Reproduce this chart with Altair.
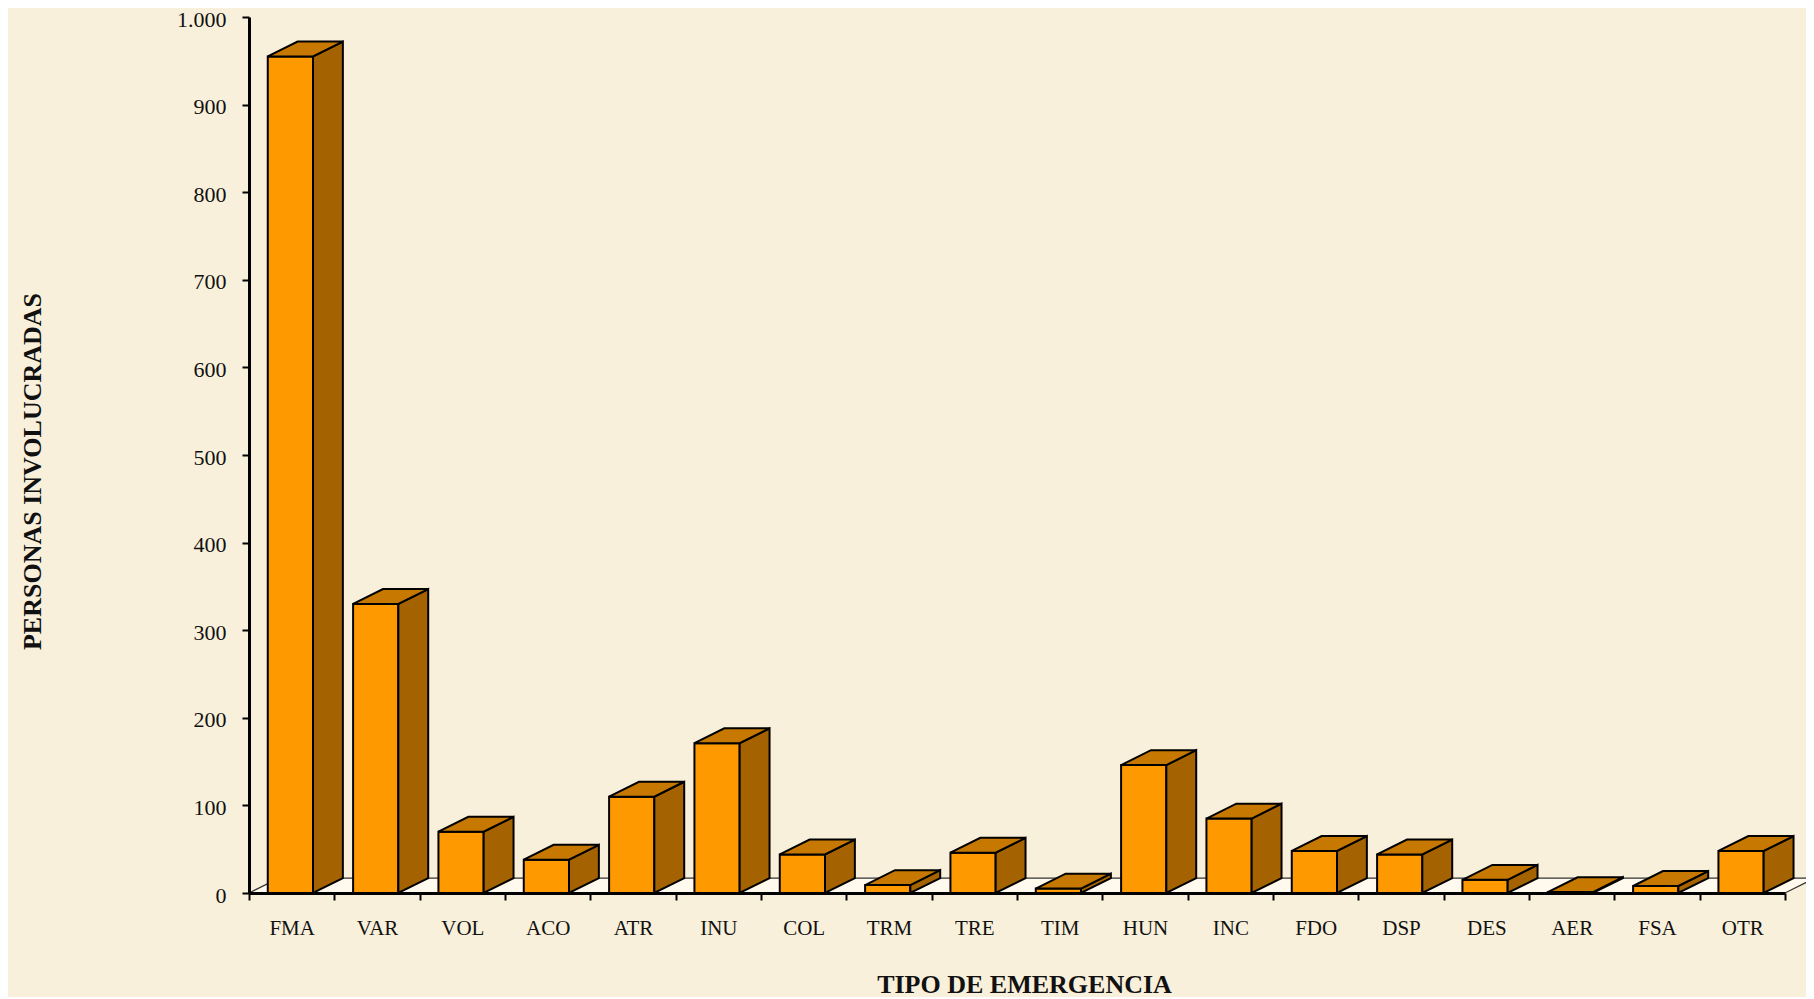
import altair as alt
import pandas as pd

# ---- data ----
categories = ["FMA", "VAR", "VOL", "ACO", "ATR", "INU", "COL", "TRM", "TRE",
              "TIM", "HUN", "INC", "FDO", "DSP", "DES", "AER", "FSA", "OTR"]
values = [955, 330, 70, 38, 110, 171, 44, 9, 46, 5, 146, 85, 48, 44, 15, 1, 8, 48]
y_ticks = list(range(0, 1001, 100))

# ---- 3D styling (band units / value units) ----
FRONT_L, FRONT_R = 0.22, 0.75
DX, DY = 0.35, 17
n = len(categories)

front_df = pd.DataFrame({
    "cat": categories,
    "x": [i + FRONT_L for i in range(n)],
    "x2": [i + FRONT_R for i in range(n)],
    "top": values,
    "bot": [0] * n,
})

side_rows, top_rows = [], []
for i, (c, v) in enumerate(zip(categories, values)):
    side_rows += [
        {"cat": c, "x": i + FRONT_R, "top": v, "bot": 0},
        {"cat": c, "x": i + FRONT_R + DX, "top": v + DY, "bot": DY},
    ]
    top_rows += [
        {"cat": c, "x": i + FRONT_L, "top": v, "bot": v},
        {"cat": c, "x": i + FRONT_L + DX, "top": v + DY, "bot": v},
        {"cat": c, "x": i + FRONT_R, "top": v + DY, "bot": v},
        {"cat": c, "x": i + FRONT_R + DX, "top": v + DY, "bot": v + DY},
    ]
side_df = pd.DataFrame(side_rows)
top_df = pd.DataFrame(top_rows)
floor_df = pd.DataFrame({
    "cat": ["floor"] * 4,
    "x": [0, DX, n, n + DX],
    "top": [0, DY, DY, DY],
    "bot": [0, 0, 0, DY],
})

FONT = "Liberation Serif"
js_cats = "[" + ",".join("'%s'" % c for c in categories) + "]"

xs = alt.Scale(domain=[0, n], nice=False, zero=False)
ys = alt.Scale(domain=[0, 1000], nice=False)

x_axis = alt.Axis(
    values=[k * 0.5 for k in range(2 * n + 1)],
    labelExpr="datum.value % 1 == 0 ? '' : " + js_cats + "[floor(datum.value)]",
    tickOpacity={"condition": {"test": "datum.value % 1 != 0", "value": 0}, "value": 1},
    labelOverlap=False, labelFlush=False, labelBound=False,
    grid=False, domainColor="black", domainWidth=3, tickColor="black", tickWidth=2,
    tickSize=7, labelPadding=17, labelFont=FONT, labelFontSize=21, labelColor="#111",
    labelBaseline="top",
    titleFont=FONT, titleFontSize=26, titleFontWeight="bold", titleColor="#111",
    titleX=775, titleY=99, titleBaseline="alphabetic", titleAlign="center",
    zindex=1,
)
y_axis = alt.Axis(
    values=y_ticks, format=",d", labelExpr="replace(datum.label, ',', '.')",
    grid=False, domainColor="black", domainWidth=3, tickColor="black", tickWidth=2,
    tickSize=7, labelPadding=16, labelFont=FONT, labelFontSize=22, labelColor="#111",
    labelOffset=2,
    titleFont=FONT, titleFontSize=26, titleFontWeight="bold", titleColor="#111",
    titleAngle=270, titleX=-209, titleY=454, titleBaseline="alphabetic", titleAlign="center",
    zindex=1,
)

def enc(ch, with_x2=False):
    e = dict(
        x=alt.X("x:Q", scale=xs, axis=x_axis, title="TIPO DE EMERGENCIA"),
        y=alt.Y("top:Q", scale=ys, axis=y_axis, title="PERSONAS INVOLUCRADAS"),
        y2="bot:Q",
    )
    if with_x2:
        e["x2"] = "x2:Q"
    else:
        e["detail"] = "cat:N"
    return ch.encode(**e)

floor = enc(alt.Chart(floor_df).mark_area(fill="#FFF9EE", stroke="#333", strokeWidth=1.2))
front = enc(alt.Chart(front_df).mark_rect(fill="#FF9900", stroke="black", strokeWidth=2), with_x2=True)
side = enc(alt.Chart(side_df).mark_area(fill="#A46300", stroke="black", strokeWidth=2))
top = enc(alt.Chart(top_df).mark_area(fill="#C67800", stroke="black", strokeWidth=2))

chart = alt.layer(floor, front, side, top).properties(
    width=1536, height=876,
    autosize=alt.AutoSizeParams(type="none"),
    padding={"left": 241, "top": 9, "right": 21, "bottom": 104},
    background="#F9F0DB",
).configure_view(stroke=None)

chart.save("out.html", embed_options={"renderer": "svg", "actions": False})
